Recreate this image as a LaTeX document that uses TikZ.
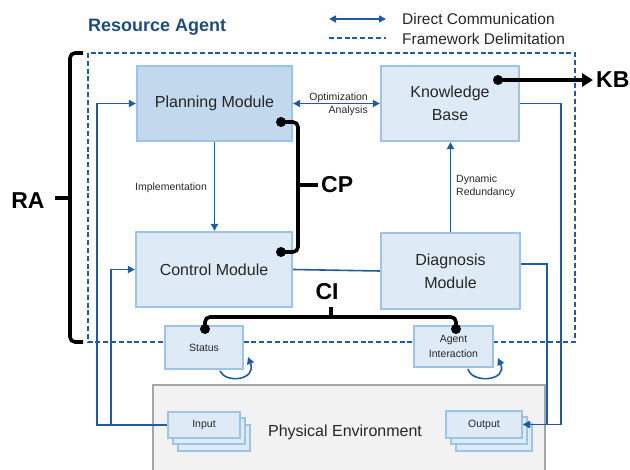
\documentclass[tikz,border=0pt]{standalone}
\usepackage{fontspec}
\setmainfont{Liberation Sans}
\usetikzlibrary{arrows.meta,calc}
\definecolor{lineblue}{HTML}{1F5C9E}
\definecolor{titleblue}{HTML}{1F4E79}
\definecolor{boxfill}{HTML}{DEEBF7}
\definecolor{planfill}{HTML}{C2D8EC}
\definecolor{boxline}{HTML}{9DC3E6}
\definecolor{envfill}{HTML}{F2F2F2}
\definecolor{envline}{HTML}{A6A6A6}
\definecolor{txt}{HTML}{262626}
\begin{document}
\begin{tikzpicture}[x=1pt,y=-1pt,
 >={Triangle[length=7pt,width=7pt]},
 box/.style={draw=boxline,fill=boxfill,line width=2.2pt,inner sep=0pt,align=center,text=txt,font=\fontsize{16}{23}\selectfont},
 smallbox/.style={box,line width=2pt,font=\fontsize{10.5}{15}\selectfont},
 link/.style={draw=lineblue,line width=1.6pt},
 frame/.style={draw=lineblue,line width=1.6pt,dash pattern=on 5pt off 2.8pt},
 blk/.style={draw=black,line width=3.6pt,rounded corners=5pt},
 lbl/.style={font=\fontsize{10.5}{13}\selectfont,inner sep=0pt,text=txt},
 big/.style={font=\bfseries\fontsize{23}{23}\selectfont,inner sep=0pt},
 dot/.style={circle,fill=black,minimum size=10pt,inner sep=0pt}]

\useasboundingbox (0,0) rectangle (630,470);
\clip (0,0) rectangle (630,470);

% physical environment
\node[draw=envline,fill=envfill,line width=2.2pt,minimum width=392pt,minimum height=110pt,anchor=north west,inner sep=0pt] (env) at (152,384) {};
\node[font=\fontsize{16}{19}\selectfont,text=txt,inner sep=0pt] (envtxt) at (345,432) {Physical Environment};

% framework delimitation
\draw[frame] (88,53) rectangle (575,342);

% title and legend
\node[anchor=west,inner sep=0pt,font=\bfseries\fontsize{18}{20}\selectfont,text=titleblue] (title) at (88,27) {Resource Agent};
\coordinate (lgA) at (329,19); \coordinate (lgB) at (386,19);
\coordinate (lgC) at (329,38); \coordinate (lgD) at (386,38);
\draw[link,<->] (lgA) -- (lgB);
\draw[frame] (lgC) -- (lgD);
\node[anchor=west,inner sep=0pt,text=txt,font=\fontsize{15.5}{18}\selectfont] (lg1) at (402,19) {Direct Communication};
\node[anchor=west,inner sep=0pt,text=txt,font=\fontsize{15.5}{18}\selectfont] (lg2) at (402,39) {Framework Delimitation};

% modules
\node[box,fill=planfill,minimum width=155pt,minimum height=75pt] (plan) at (214.5,103.5) {Planning Module};
\node[box,minimum width=138pt,minimum height=75pt] (kb) at (450,103.5) {Knowledge\\Base};
\node[box,minimum width=156pt,minimum height=75pt] (ctrl) at (214,269.5) {Control Module};
\node[box,minimum width=139pt,minimum height=76pt] (diag) at (450.5,271) {Diagnosis\\Module};
\node[smallbox,minimum width=78pt,minimum height=43pt] (status) at (204,347.5) {Status};
\node[smallbox,minimum width=79pt,minimum height=41pt] (agent) at (453.5,346.5) {Agent\\Interaction};

% stacked cards
\node[smallbox,minimum width=72pt,minimum height=26pt] (in3) at (213.5,438) {};
\node[smallbox,minimum width=72pt,minimum height=26pt] (in2) at (208.5,431.5) {};
\node[smallbox,minimum width=72pt,minimum height=26pt] (in) at (204,425) {Input};
\node[smallbox,minimum width=76pt,minimum height=27pt] (out3) at (493.5,437.5) {};
\node[smallbox,minimum width=76pt,minimum height=27pt] (out2) at (488.5,431) {};
\node[smallbox,minimum width=76pt,minimum height=27pt] (out) at (484,424.5) {Output};

% blue connectors
\draw[link,<->] (plan.east) -- (kb.west);
\node[lbl,align=right,anchor=east] (optlbl) at (368,104) {Optimization\\Analysis};
\draw[link,->] (plan.south) -- (plan.south |- ctrl.north);
\node[lbl] (implbl) at (171,188) {Implementation};
\draw[link,->] (diag.north) -- (diag.north |- kb.south);
\node[lbl,align=left,anchor=west] (dynlbl) at (456,186.5) {Dynamic\\Redundancy};
\draw[link] (ctrl.east) -- (diag.west);
\draw[link,->] (in.west) -- ++(-70,0) |- (plan.west);
\draw[link,->] (in.west) -- ++(-56,0) |- (ctrl.west);
\draw[link,->] (kb.east) -- ++(41,0) |- (out.east);
\draw[link,->] ([yshift=7pt]diag.east) -- ++(26,0) |- (out.east);

% self loops
\draw[link,->] ($(status.south)+(16,1)$) .. controls (226,384) and (257,380) .. ($(status.south east)+(4,-13)$);
\draw[link,->] ($(agent.south)+(14.5,1)$) .. controls (472,384) and (508,381) .. ($(agent.south east)+(4,-10)$);

% black brackets
\coordinate (cpA) at (281,122); \coordinate (cpB) at (281,252);
\draw[blk] (cpA) -- (298,122) -- (298,252) -- (cpB);
\draw[blk] (298,185) -- (318,185);
\node[dot] at (cpA) {}; \node[dot] at (cpB) {};
\node[big,anchor=west] (cp) at (321,185) {CP};

\coordinate (ciA) at (205,329); \coordinate (ciB) at (456,329);
\draw[blk] (ciA) -- (205,317) -- (456,317) -- (ciB);
\draw[blk] (331,317) -- (331,307);
\node[dot] at (ciA) {}; \node[dot] at (ciB) {};
\node[big] (ci) at (327,292) {CI};

\coordinate (kbdot) at (498,80);
\node[big,anchor=west] (kbl) at (596,80) {KB};
\draw[black,line width=3.6pt,-{Triangle[length=11pt,width=13pt]},shorten >=3pt] (kbdot) -- (kbl.west);
\node[dot] at (kbdot) {};

\draw[blk] (83,53) -- (70,53) -- (70,342) -- (83,342);
\draw[blk] (70,198) -- (55,198);
\node[big] (ra) at (28,201) {RA};
\end{tikzpicture}
\end{document}
